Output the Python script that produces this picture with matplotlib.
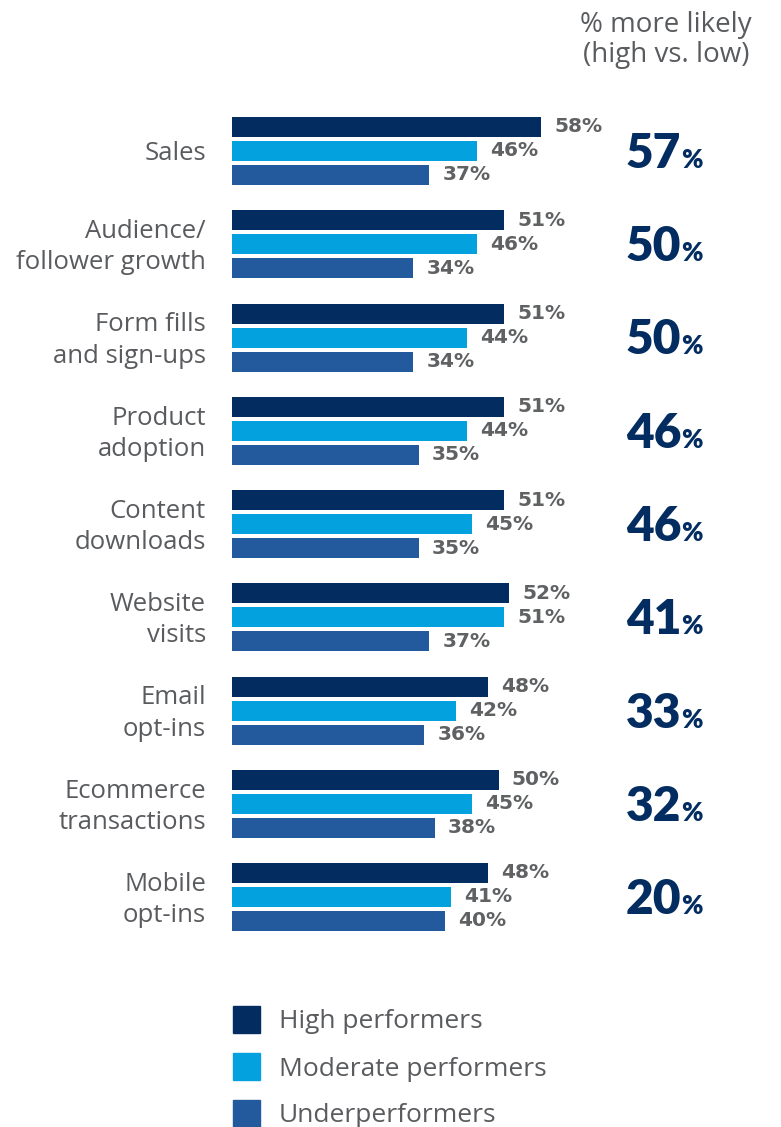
import matplotlib
matplotlib.use("Agg")
from matplotlib import pyplot as plt
from matplotlib.patches import Rectangle

# Data
categories = ["Sales", "Audience/\nfollower growth", "Form fills\nand sign-ups",
              "Product\nadoption", "Content\ndownloads", "Website\nvisits",
              "Email\nopt-ins", "Ecommerce\ntransactions", "Mobile\nopt-ins"]
high = [58, 51, 51, 51, 51, 52, 48, 50, 48]
moderate = [46, 46, 44, 44, 45, 51, 42, 45, 41]
under = [37, 34, 34, 35, 35, 37, 36, 38, 40]
more_likely = [57, 50, 50, 46, 46, 41, 33, 32, 20]
series_names = ["High performers", "Moderate performers", "Underperformers"]

# Colors
navy = "#032D60"
sky = "#04A1DF"
mid = "#235A9E"
gray = "#595B5E"

plt.rcParams['font.family'] = ['Open Sans', 'DejaVu Sans']

W, H = 781, 1127
fig = plt.figure(figsize=(W / 100, H / 100), dpi=100)
# axes start where the bars start; 1 unit = 5.33 px
x0 = 232
ax = fig.add_axes([x0 / W, 0, 533 / W, 1])
ax.set_xlim(0, 100)
top_c, step = 151, 93.25
ax.set_ylim((H - top_c) / step, -top_c / step)
ax.axis('off')

bar_h = 20 / step
off = 24 / step
ypos = list(range(len(categories)))

for vals, color, shift in [(high, navy, -off), (moderate, sky, 0), (under, mid, off)]:
    ys = [y + shift for y in ypos]
    ax.barh(ys, vals, height=bar_h, color=color)
    for y, v in zip(ys, vals):
        ax.text(v + 2.5, y, f"{v}%", ha='left', va='center', fontsize=14.5,
                fontweight='bold', color="#5f6163", family=['DejaVu Sans'])

# category labels
for y, c in zip(ypos, categories):
    ax.text(-4.9, y + 3 / step, c, ha='right', va='center', fontsize=18.5, color=gray,
            linespacing=1.33, clip_on=False)

# big "% more likely" numbers
for y, v in zip(ypos, more_likely):
    ax.text(84.3, y + 17 / step, str(v), ha='right', va='baseline', fontsize=34.5,
            fontweight='heavy', color=navy, family=['Lato', 'DejaVu Sans'])
    ax.text(84.3, y + 17 / step, "%", ha='left', va='baseline', fontsize=18.5,
            fontweight='heavy', color=navy, family=['Lato', 'DejaVu Sans'])

# header
fig.text(666 / W, 1 - 40 / H, "% more likely\n(high vs. low)", ha='center', va='center',
         fontsize=20, color=gray, linespacing=1.1)

# legend
for i, (name, color) in enumerate(zip(series_names, [navy, sky, mid])):
    ytop = 1006 + 47 * i
    fig.patches.append(Rectangle((233 / W, 1 - (ytop + 27) / H), 27 / W, 27 / H,
                                 transform=fig.transFigure, color=color))
    fig.text(279 / W, 1 - (ytop + 16) / H, name, ha='left', va='center',
             fontsize=19, color=gray)

fig.savefig("out.png", dpi=100)
